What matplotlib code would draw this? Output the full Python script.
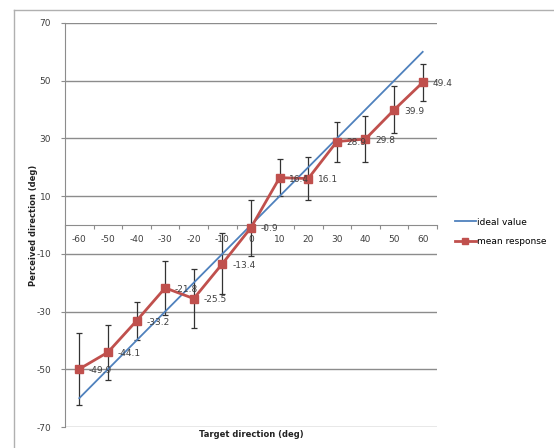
import numpy as np
import matplotlib.pyplot as plt
from matplotlib.lines import Line2D

plt.rcParams['font.family'] = ['DejaVu Sans']
plt.rcParams['axes.unicode_minus'] = False

target = [-60, -50, -40, -30, -20, -10, 0, 10, 20, 30, 40, 50, 60]
ideal = [-60, -50, -40, -30, -20, -10, 0, 10, 20, 30, 40, 50, 60]
mean_resp = [-49.9, -44.1, -33.2, -21.8, -25.5, -13.4, -0.9, 16.4, 16.1, 28.9, 29.8, 39.9, 49.4]
err = [12.6, 9.5, 6.5, 9.4, 10.1, 10.5, 9.7, 6.3, 7.4, 6.9, 7.9, 8.1, 6.4]

blue = '#4f81bd'
red = '#c0504d'
grid_c = '#8c8c8c'
txt_c = '#404040'

W, H = 554, 448
fig = plt.figure(figsize=(W / 100, H / 100), dpi=100)
ax = fig.add_axes([65 / W, 21 / H, 372 / W, 404 / H])

# horizontal gridlines
for yv in range(-70, 71, 20):
    ax.axhline(yv, color=grid_c, lw=1.0, zorder=1)

ax.plot(target, ideal, color=blue, lw=1.3, zorder=3, label='ideal value')
ax.errorbar(target, mean_resp, yerr=err, fmt='none', ecolor='#333333',
            elinewidth=0.9, capsize=2.5, capthick=0.9, zorder=2)
ax.plot(target, mean_resp, color=red, lw=2.0, marker='s', ms=6,
        mec=red, mfc=red, zorder=4, label='mean response')

for x, y in zip(target, mean_resp):
    ax.annotate(f'{y:.1f}', (x, y), xytext=(7, -1), textcoords='offset points',
                ha='left', va='center', fontsize=6.5, color=txt_c, zorder=5)

ax.set_xlim(-65, 65)
ax.set_ylim(-70, 70)

for s in ['top', 'right']:
    ax.spines[s].set_visible(False)
ax.spines['bottom'].set_position(('data', 0))
ax.spines['bottom'].set_color(grid_c)
ax.spines['left'].set_color(grid_c)

# ticks between categories, labels on categories
ax.set_xticks(np.arange(-65, 66, 10))
ax.set_xticklabels([])
ax.set_xticks(target, minor=True)
ax.set_xticklabels([str(t) for t in target], minor=True)
ax.tick_params(axis='x', which='major', direction='out', length=3, color=grid_c)
ax.tick_params(axis='x', which='minor', length=0, pad=7, labelsize=6.5,
               labelcolor=txt_c)

ax.set_yticks(range(-70, 71, 20))
ax.tick_params(axis='y', direction='out', length=3, color=grid_c, pad=7,
               labelsize=6.5, labelcolor=txt_c)

fig.text(33 / W, 1 - 225 / H, 'Perceived direction (deg)', rotation=90,
         ha='center', va='center', fontsize=6, fontweight='bold', color='#222222')
fig.text(251 / W, 1 - 434 / H, 'Target direction (deg)', ha='center',
         va='center', fontsize=6, fontweight='bold', color='#222222')

fig.legend(loc='center left', bbox_to_anchor=(455 / W, 1 - 232 / H),
           frameon=False, fontsize=6.5, handlelength=2.3, handletextpad=0.1,
           labelspacing=1.2, borderpad=0, borderaxespad=0, markerscale=0.8)

# outer chart frame
fig.add_artist(Line2D([13.5 / W, 13.5 / W], [0, 1 - 10 / H], color='#b0b0b0', lw=1))
fig.add_artist(Line2D([13.5 / W, 1], [1 - 10 / H, 1 - 10 / H], color='#b0b0b0', lw=1))

fig.savefig('out.png', dpi=100)
